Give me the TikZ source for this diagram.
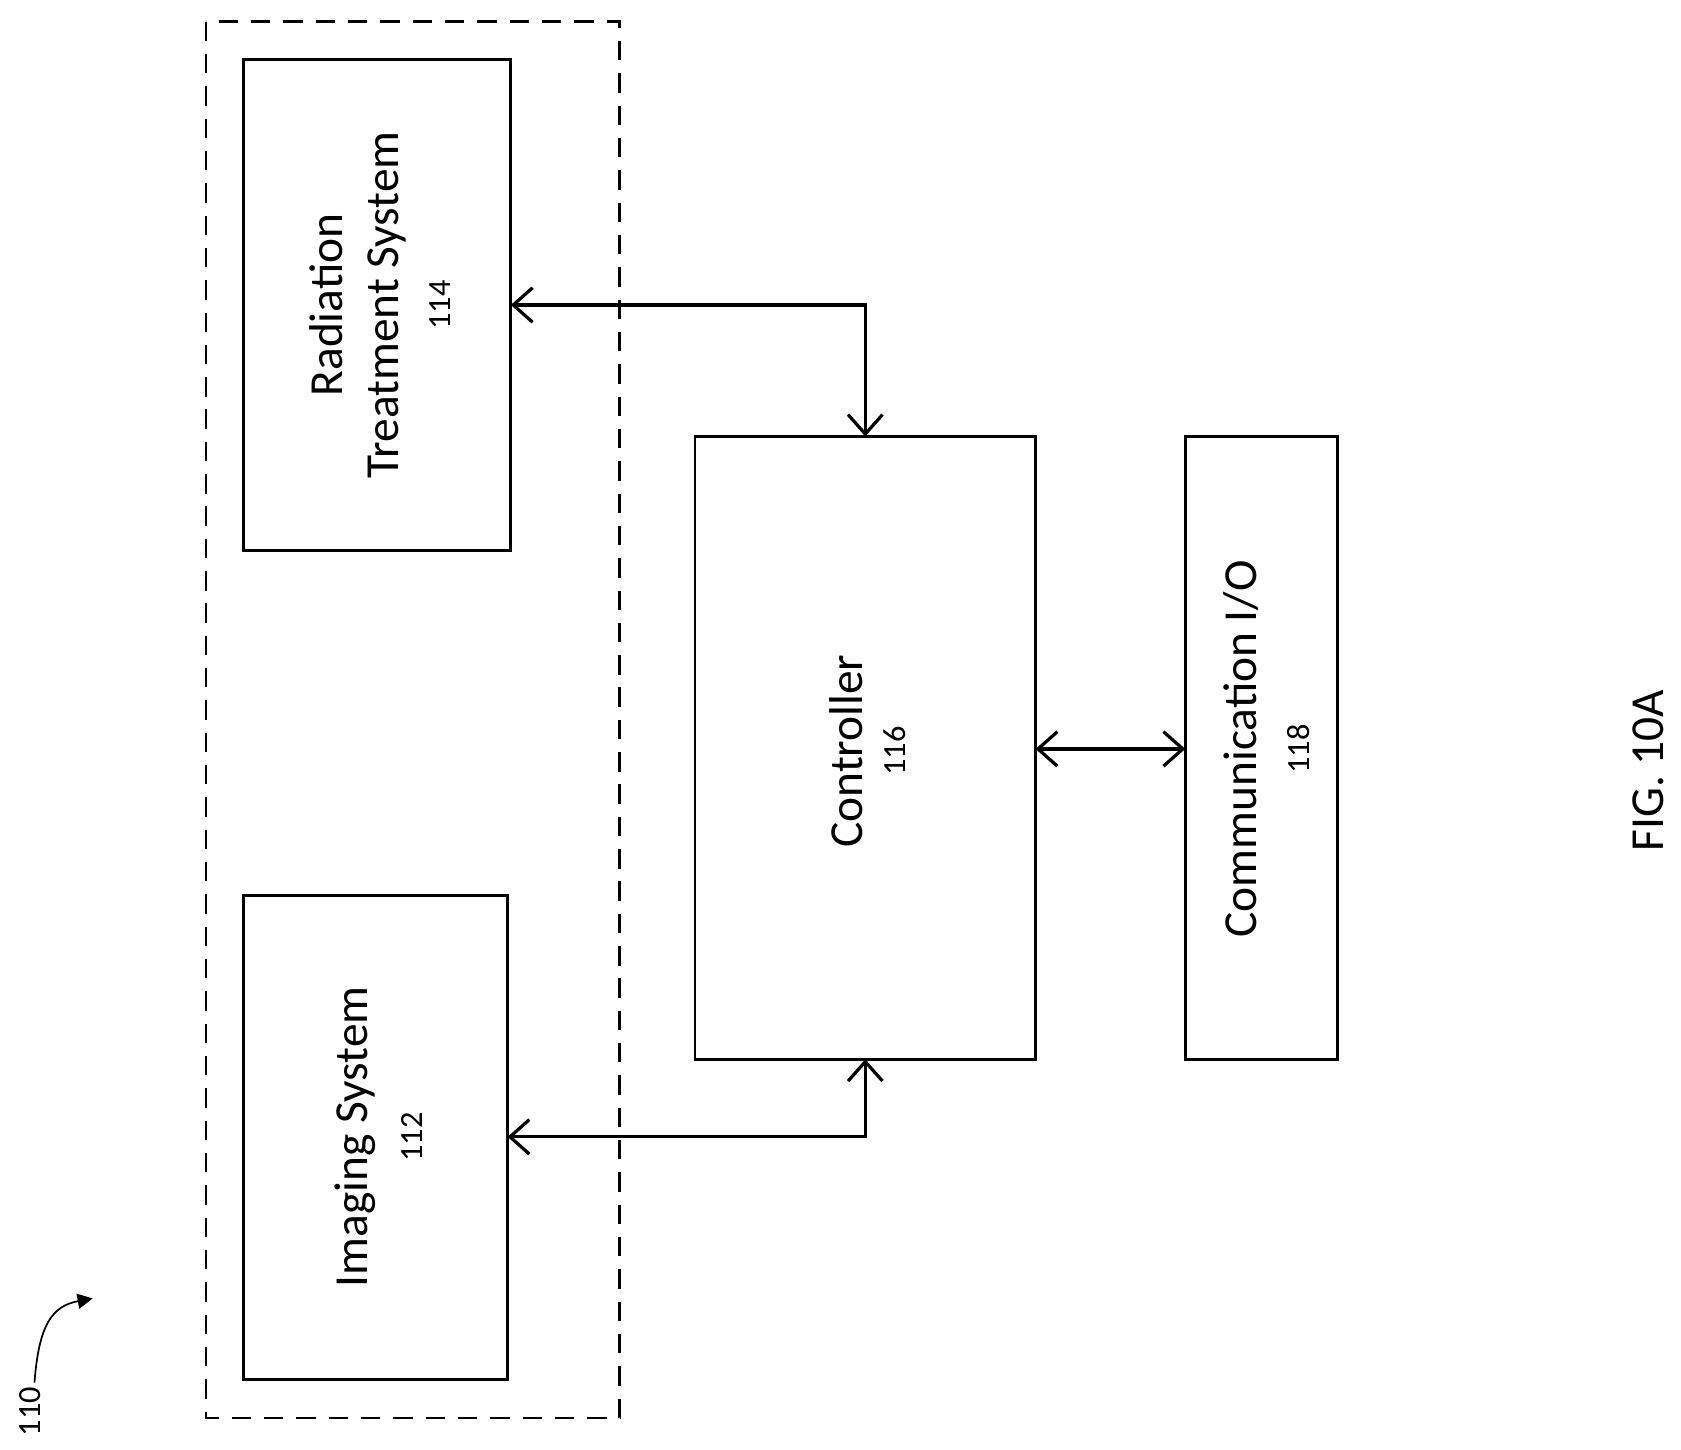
\documentclass[tikz,border=0pt]{standalone}
\usepackage{fontspec}
\setmainfont{Carlito}
\usetikzlibrary{arrows.meta}
\begin{document}
\begin{tikzpicture}[x=0.5pt,y=-0.5pt,
  box/.style={draw,line width=1.3pt},
  lbl/.style={rotate=90,font=\fontsize{22}{26}\selectfont,align=center},
  num/.style={rotate=90,font=\fontsize{15}{18}\selectfont},
  conn/.style={line width=1.5pt,{Straight Barb[length=9pt,width=16pt,line width=1.5pt]}-{Straight Barb[length=9pt,width=16pt,line width=1.5pt]}}]
\useasboundingbox (0,0) rectangle (1560,1345);
\draw[dashed,line width=1.2pt,dash pattern=on 9pt off 6pt] (191,20) rectangle (575,1316);
\node[box,minimum width=228pt,minimum height=124pt,rotate=90] (rad) at (350,283) {};
\node[box,minimum width=224.5pt,minimum height=122.5pt,rotate=90] (img) at (348.5,1055.5) {};
\node[box,minimum width=289pt,minimum height=158pt,rotate=90] (ctl) at (803,694) {};
\node[box,minimum width=289pt,minimum height=70.5pt,rotate=90] (com) at (1170.5,694) {};
\node[lbl] (radt) at (332,283) {Radiation\\Treatment System};
\node[num] (radn) at (408,283) {114};
\node[lbl] (imgt) at (330,1055) {Imaging System};
\node[num] (imgn) at (382,1055) {112};
\node[lbl] (ctlt) at (785,697) {Controller};
\node[num] (ctln) at (830,697) {116};
\node[lbl] (comt) at (1152,695) {Communication I/O};
\node[num] (comn) at (1205,695) {118};
\node[lbl] (fig) at (1530,715) {FIG. 10A};
\node[num] (ref) at (28,1310) {110};
\coordinate (rA) at (474,283); \coordinate (rB) at (803,283);
\coordinate (iA) at (471,1055); \coordinate (iB) at (803,1055);
\draw[conn] (rA) -- (rB) -- (ctl.east |- 0,405);
\draw[conn] (iA) -- (iB) -- (803,983);
\draw[conn] (961,695) -- (1100,695);
\coordinate (c1) at (32,1283); \coordinate (c2) at (86,1205);
\draw[line width=0.8pt,-{Triangle[length=7pt,width=7pt]}] (c1) .. controls (36,1230) and (48,1212) .. (c2);
\end{tikzpicture}
\end{document}
